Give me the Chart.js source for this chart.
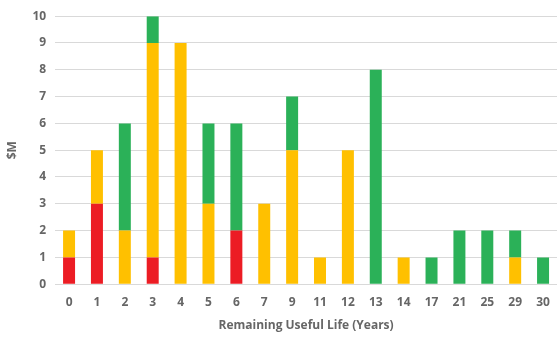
<!DOCTYPE html>
<html>
<head>
<meta charset="utf-8">
<script src="https://cdn.jsdelivr.net/npm/chart.js@4"></script>
<style>
  html, body { margin: 0; padding: 0; background: #fff; }
  #wrap { width: 558px; height: 348px; }
</style>
</head>
<body>
<div id="wrap"><canvas id="chart"></canvas></div>
<script>
// data
const years  = ["0","1","2","3","4","5","6","7","9","11","12","13","14","17","21","25","29","30"];
const red    = [1, 3, 0, 1, 0, 0, 2, 0, 0, 0, 0, 0, 0, 0, 0, 0, 0, 0];
const yellow = [1, 2, 2, 8, 9, 3, 0, 3, 5, 1, 5, 0, 1, 0, 0, 0, 1, 0];
const green  = [0, 0, 4, 1, 0, 3, 4, 0, 2, 0, 0, 8, 0, 1, 2, 2, 1, 1];
const yTicks = [0, 1, 2, 3, 4, 5, 6, 7, 8, 9, 10];

const tickFont = { family: "'Open Sans', 'Liberation Sans', sans-serif", size: 12, weight: "bold" };
const grey = "#666666";

function serie(label, data, color) {
    return {
        label: label,
        data: data,
        backgroundColor: color,
        borderWidth: 0,
        barPercentage: 0.43,
        categoryPercentage: 1.0
    };
}

new Chart(document.getElementById("chart"), {
    type: "bar",
    data: {
        labels: years,
        datasets: [
            serie("Red", red, "#EC1C24"),
            serie("Yellow", yellow, "#FFC000"),
            serie("Green", green, "#2BB158")
        ]
    },
    options: {
        responsive: true,
        maintainAspectRatio: false,
        animation: false,
        layout: { padding: { top: 8, right: 1, left: 1, bottom: 11 } },
        plugins: {
            legend: { display: false },
            tooltip: { enabled: false }
        },
        scales: {
            x: {
                stacked: true,
                grid: { display: false },
                border: { display: false },
                ticks: { color: grey, font: tickFont, padding: 3, maxRotation: 0, autoSkip: false },
                title: {
                    display: true,
                    text: "Remaining Useful Life (Years)",
                    color: grey,
                    font: tickFont,
                    padding: { top: 6 }
                }
            },
            y: {
                stacked: true,
                min: 0,
                max: 10,
                afterBuildTicks: axis => { axis.ticks = yTicks.map(v => ({ value: v })); },
                grid: { color: "#D9D9D9", drawTicks: false },
                border: { display: false },
                ticks: { color: grey, font: tickFont, padding: 9 },
                title: {
                    display: true,
                    text: "$M",
                    color: grey,
                    font: tickFont,
                    padding: { bottom: 4 }
                }
            }
        }
    }
});
</script>
</body>
</html>
